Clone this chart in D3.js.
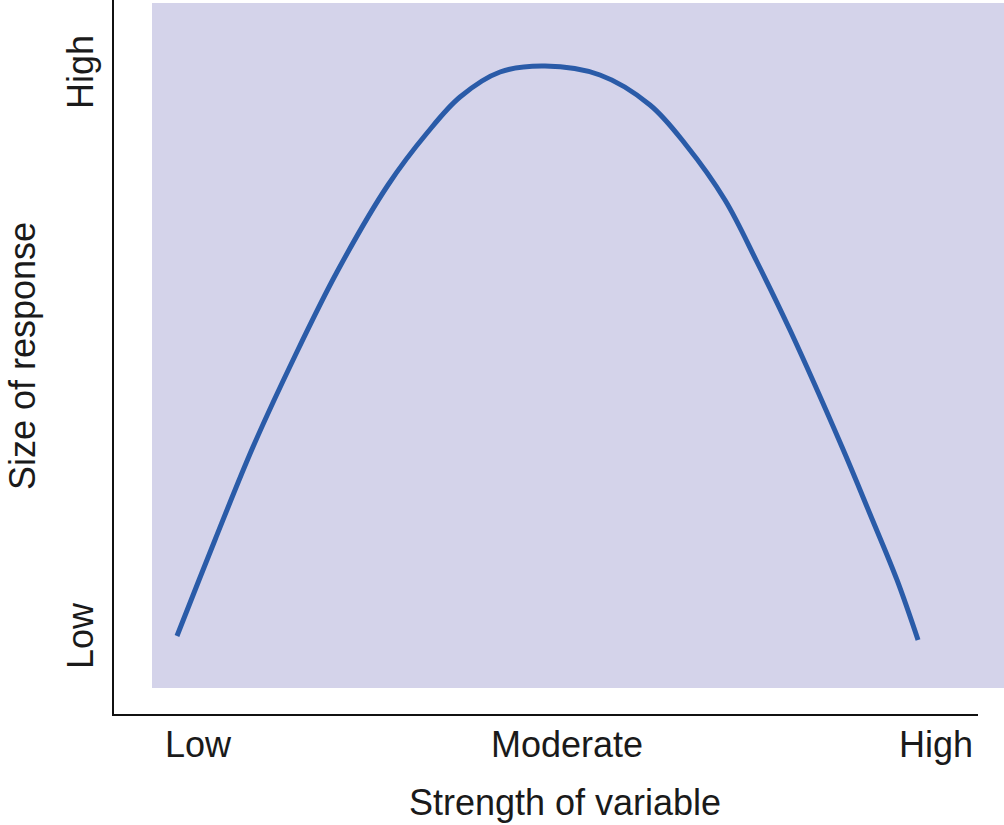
<!DOCTYPE html>
<html>
<head>
<meta charset="utf-8">
<script src="https://cdn.jsdelivr.net/npm/d3@7"></script>
<style>
  html, body { margin: 0; padding: 0; background: #ffffff; }
  svg { display: block; }
  text { font-family: "Liberation Sans", Arial, Helvetica, sans-serif; fill: #1a1a1a; }
</style>
</head>
<body>
<svg id="chart" width="1004" height="825"></svg>
<script>
// ---- Data ----
const strength = [2.93, 7.39, 11.85, 16.78, 21.71, 27.70, 32.28, 36.15, 40.85, 46.13, 52.58,
                  58.45, 62.68, 67.25, 71.01, 74.88, 80.99, 84.27, 87.44, 89.91];
const response = [7.59, 21.61, 35.18, 48.47, 60.73, 73.43, 81.02, 86.28, 89.93, 90.80, 89.49,
                  85.11, 79.27, 71.24, 62.19, 52.26, 35.18, 25.40, 15.77, 7.01];
const xTickLabels = ["Low", "Moderate", "High"];
const yTickLabels = ["Low", "High"];
const xTitle = "Strength of variable";
const yTitle = "Size of response";

// ---- Layout ----
const svg = d3.select("#chart");
const plot = { left: 152, right: 1004, top: 3, bottom: 688 };
const axisX = 113, axisY = 715;

const x = d3.scaleLinear().domain([0, 100]).range([plot.left, plot.right]);
const y = d3.scaleLinear().domain([0, 100]).range([plot.bottom, plot.top]);
const xCat = d3.scalePoint().domain(xTickLabels).range([198, 936]);
const yCat = d3.scalePoint().domain(yTickLabels).range([636, 72]);

// shaded region
svg.append("rect")
  .attr("x", x(0)).attr("y", y(100))
  .attr("width", x(100) - x(0)).attr("height", y(0) - y(100))
  .attr("fill", "#d4d3ea");

// axes lines
svg.append("line")
  .attr("x1", axisX).attr("x2", axisX).attr("y1", 0).attr("y2", axisY + 1)
  .attr("stroke", "#111").attr("stroke-width", 2);
svg.append("line")
  .attr("x1", axisX - 1).attr("x2", 978).attr("y1", axisY).attr("y2", axisY)
  .attr("stroke", "#111").attr("stroke-width", 2);

// curve
const pts = strength.map((d, i) => [d, response[i]]);
const line = d3.line()
  .x(d => x(d[0])).y(d => y(d[1]))
  .curve(d3.curveCatmullRom.alpha(0.5));
svg.append("path")
  .datum(pts)
  .attr("d", line)
  .attr("fill", "none")
  .attr("stroke", "#2a5ba8")
  .attr("stroke-width", 5)
  .attr("stroke-linecap", "butt")
  .attr("stroke-linejoin", "round");

// x tick labels
svg.selectAll("text.xtick").data(xTickLabels).enter().append("text")
  .attr("class", "xtick")
  .attr("x", d => xCat(d)).attr("y", 757)
  .attr("text-anchor", "middle")
  .attr("font-size", 36)
  .text(d => d);

// y tick labels
svg.selectAll("text.ytick").data(yTickLabels).enter().append("text")
  .attr("class", "ytick")
  .attr("transform", d => `translate(93,${yCat(d)}) rotate(-90)`)
  .attr("text-anchor", "middle")
  .attr("font-size", 36)
  .text(d => d);

// titles
svg.append("text")
  .attr("x", 565).attr("y", 815)
  .attr("text-anchor", "middle")
  .attr("font-size", 36)
  .text(xTitle);
svg.append("text")
  .attr("transform", "translate(35,356) rotate(-90)")
  .attr("text-anchor", "middle")
  .attr("font-size", 36)
  .text(yTitle);
</script>
</body>
</html>
